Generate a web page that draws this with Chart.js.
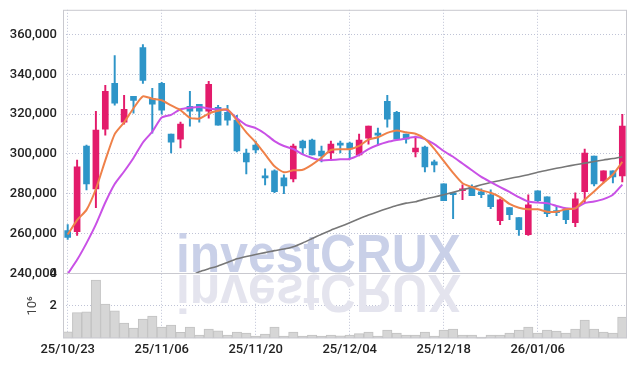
<!DOCTYPE html>
<html>
<head>
<meta charset="utf-8">
<script src="https://cdn.jsdelivr.net/npm/chart.js@4/dist/chart.umd.min.js"></script>
<style>
  html, body { margin: 0; padding: 0; background: #ffffff; }
  #chart { display: block; }
</style>
</head>
<body>
<canvas id="chart" width="637" height="366"></canvas>
<script>
// Daily candles 25/10/23 .. 26/01/19 (KRX trading days)
const dates = [
  '25/10/23','25/10/24','25/10/27','25/10/28','25/10/29','25/10/30','25/10/31','25/11/03','25/11/04','25/11/05',
  '25/11/06','25/11/07','25/11/10','25/11/11','25/11/12','25/11/13','25/11/14','25/11/17','25/11/18','25/11/19',
  '25/11/20','25/11/21','25/11/24','25/11/25','25/11/26','25/11/27','25/11/28','25/12/01','25/12/02','25/12/03',
  '25/12/04','25/12/05','25/12/08','25/12/09','25/12/10','25/12/11','25/12/12','25/12/15','25/12/16','25/12/17',
  '25/12/18','25/12/19','25/12/22','25/12/23','25/12/24','25/12/26','25/12/29','25/12/30','26/01/02','26/01/05',
  '26/01/06','26/01/07','26/01/08','26/01/09','26/01/12','26/01/13','26/01/14','26/01/15','26/01/16','26/01/19'
];

const priceTicks = [240000, 260000, 280000, 300000, 320000, 340000, 360000];
const volumeTicks = [2, 4];

const opens = [
  261500,261000,304000,282500,312500,335500,316000,329000,353500,328000,
  335500,310000,307500,324000,325000,321500,323500,321000,317000,300500,
  304500,288500,291500,288000,287500,306500,307000,301500,300500,305500,
  305500,299500,308000,310500,326500,321000,310000,301000,303500,296000,
  285000,280000,281500,283500,281000,279500,266500,273000,268000,259500,
  281500,278500,271500,272000,265500,281000,299000,286500,291500,289000
];
const highs = [
  264500,297000,304500,321500,334500,349500,329500,329000,355000,333000,
  336000,310000,316000,331500,325000,336500,324500,324500,319500,302500,
  306500,292500,292000,289500,305000,307000,307500,304000,306500,306500,
  306000,310000,314000,313000,329500,321500,310000,309000,304000,297000,
  285000,280000,284500,284500,282500,282000,277500,273000,268000,279500,
  281500,278500,273500,272000,280500,302500,299000,291500,291500,320000
];
const lows = [
  257000,259000,282000,273000,309500,324500,315000,320500,335500,310500,
  320000,300500,303000,314000,316000,318000,314500,314500,301000,290000,
  300500,284500,280500,280000,286000,300000,299500,296000,297500,300500,
  297500,299000,305000,304500,313500,307500,305500,298500,291000,291000,
  276500,267500,277000,279000,278000,272500,264500,267000,259000,259000,
  275500,268500,269000,265000,263500,275500,284000,285500,285500,286000
];
const closes = [
  258000,293500,285000,312000,331500,325500,322500,327000,337000,325000,
  322000,306000,315000,321500,321500,335000,314500,317000,301500,296000,
  302000,288000,281000,284000,304000,303000,299500,299000,305000,304500,
  302500,307000,314000,309500,317500,307500,307500,303000,293500,294500,
  276500,279500,282500,279000,279500,273500,277000,269500,262000,274500,
  276500,270000,270500,267000,277500,300500,285000,291500,288500,314000
];

// moving averages
const maShort = [
  259500,266800,271900,282400,296800,310000,315900,323000,329000,327800,
  327000,324400,322000,318200,317800,320300,321700,322400,316900,310900,
  305800,299800,293800,290800,291800,292100,294700,298100,302000,302400,
  302400,304100,307200,308400,310600,311800,310900,310200,307700,302600,
  296500,290500,285300,283400,281700,280500,278300,274900,273000,272200,
  272200,271000,271000,272200,272700,277000,281200,285500,289700,296000
];
const maMid = [
  239700,246800,255200,264600,275600,284900,291200,298000,305800,311200,
  318300,319700,322500,323200,323600,322900,322400,322000,318000,314500,
  313000,310200,306500,304000,302500,299800,298000,296800,297000,297300,
  297500,299500,302500,304500,306000,307000,307800,308500,307500,305000,
  301500,298600,295200,291800,288500,285900,283400,280900,278300,276100,
  275600,275300,273900,272700,272700,275300,276100,277300,279500,284600
];
const maLong = [
  null,null,null,null,null,null,null,null,null,null,
  null,null,null,238500,240800,242300,243700,245500,247300,248500,
  249500,250400,251400,252200,253400,255300,257500,259700,261700,263500,
  265400,267400,269300,271000,272600,274100,275300,276000,277300,278400,
  279500,280700,282000,283200,284500,285700,286700,287700,288600,289600,
  290800,291800,292800,293700,294600,295400,296200,297000,297700,298600
];

// volume in millions of shares
const volumes = [
  0.41,1.58,1.64,3.59,2.11,1.70,0.94,0.64,1.19,1.37,
  0.70,0.82,0.37,0.70,0.21,0.57,0.47,0.21,0.39,0.33,
  0.15,0.27,0.70,0.15,0.39,0.15,0.21,0.15,0.21,0.16,
  0.21,0.29,0.39,0.15,0.51,0.33,0.21,0.21,0.39,0.15,
  0.51,0.57,0.21,0.21,0.08,0.21,0.21,0.33,0.51,0.70,
  0.33,0.51,0.45,0.33,0.57,1.13,0.57,0.39,0.33,1.31
];

const UP = '#e31b6b';
const DOWN = '#2e95c8';
const GRID = '#bfc3d6';
const FRAME = '#c9c9cf';
const TEXT = '#222222';
const FONT = { family: 'Roboto', size: 13, weight: '500' };
const AXIS_WIDTH = 55;

const candleColors = opens.map((o, i) => (closes[i] >= o ? UP : DOWN));

// lines of the price pane must not spill into the volume pane
const priceClip = {
  id: 'priceClip',
  beforeDatasetDraw(chart, args) {
    if (args.meta.yAxisID !== 'y') return;
    const { ctx, chartArea, scales } = chart;
    ctx.save();
    ctx.beginPath();
    ctx.rect(chartArea.left, scales.y.top, chartArea.right - chartArea.left, scales.y.bottom - scales.y.top);
    ctx.clip();
  },
  afterDatasetDraw(chart, args) {
    if (args.meta.yAxisID !== 'y') return;
    chart.ctx.restore();
  },
};

// brand mark with its mirror image, centred on the canvas
const watermark = {
  id: 'watermark',
  beforeDatasetsDraw(chart) {
    const { ctx, scales } = chart;
    const cx = chart.width / 2;
    const base = scales.y.bottom;
    const text = 'investCRUX';
    ctx.save();
    ctx.font = 'bold 53px "Liberation Sans", Arial, sans-serif';
    const sx = 285 / ctx.measureText(text).width;
    ctx.textAlign = 'center';
    ctx.textBaseline = 'alphabetic';
    ctx.translate(cx, base);
    ctx.scale(sx, 1);
    ctx.fillStyle = '#c9d0e8';
    ctx.fillText(text, 0, -1);
    ctx.scale(1, -1);
    ctx.fillStyle = '#e4e4ee';
    ctx.fillText(text, 0, -2);
    ctx.restore();
  },
};

const frame = {
  id: 'frame',
  afterDatasetsDraw(chart) {
    const { ctx, chartArea, scales } = chart;
    ctx.save();
    ctx.strokeStyle = FRAME;
    ctx.lineWidth = 1;
    ctx.strokeRect(chartArea.left + 0.5, chartArea.top + 0.5, chartArea.right - chartArea.left - 1, chartArea.bottom - chartArea.top - 1);
    ctx.beginPath();
    ctx.moveTo(chartArea.left, Math.round(scales.y.bottom) + 0.5);
    ctx.lineTo(chartArea.right, Math.round(scales.y.bottom) + 0.5);
    ctx.stroke();
    ctx.restore();
  },
};

const lineStyle = (color, width) => ({
  type: 'line',
  yAxisID: 'y',
  borderColor: color,
  borderWidth: width,
  pointRadius: 0,
  tension: 0.2,
  fill: false,
  order: 0,
});

// tick marks kept (for label spacing) but invisible
const yGrid = { color: GRID, drawTicks: true, tickLength: 4, tickColor: 'transparent' };
const fixWidth = (axis) => { axis.width = AXIS_WIDTH; };

new Chart(document.getElementById('chart'), {
  type: 'bar',
  data: {
    labels: dates,
    datasets: [
      { ...lineStyle('#ef8149', 2), label: 'MA5', data: maShort },
      { ...lineStyle('#c951e6', 2), label: 'MA20', data: maMid },
      { ...lineStyle('#777777', 1.6), label: 'MA60', data: maLong },
      {
        label: 'body',
        yAxisID: 'y',
        data: opens.map((o, i) => [o, closes[i]]),
        backgroundColor: candleColors,
        barThickness: 6,
        minBarLength: 2,
        grouped: false,
        order: 1,
      },
      {
        label: 'wick',
        yAxisID: 'y',
        data: lows.map((l, i) => [l, highs[i]]),
        backgroundColor: candleColors,
        barThickness: 1.3,
        grouped: false,
        order: 2,
      },
      {
        label: 'volume',
        yAxisID: 'yv',
        data: volumes,
        backgroundColor: '#d6d6d6',
        borderColor: '#c2c2c2',
        borderWidth: 1,
        barPercentage: 1,
        categoryPercentage: 1,
        grouped: false,
        order: 3,
      },
    ],
  },
  options: {
    responsive: false,
    animation: false,
    layout: { padding: { top: 4, right: 10, bottom: 4, left: 8 } },
    plugins: { legend: { display: false }, tooltip: { enabled: false } },
    scales: {
      x: {
        offset: true,
        grid: {
          offset: false,
          color: (ctx) => (ctx.index % 10 === 0 ? GRID : 'transparent'),
          drawTicks: false,
        },
        border: { display: false, dash: [1, 2] },
        ticks: {
          autoSkip: false,
          maxRotation: 0,
          color: TEXT,
          font: FONT,
          padding: 4,
          callback: (v, i) => (i % 10 === 0 ? dates[i] : ''),
        },
      },
      yv: {
        position: 'left',
        stack: 'pane',
        stackWeight: 1,
        min: 0,
        max: 4,
        afterBuildTicks: (axis) => { axis.ticks = volumeTicks.map((value) => ({ value })); },
        afterFit: fixWidth,
        grid: yGrid,
        border: { display: false, dash: [1, 2] },
        title: { display: true, text: '10⁶', color: '#444', font: { family: 'Roboto', size: 13 }, padding: { top: 17, bottom: 0 } },
        ticks: { color: TEXT, font: FONT, padding: 2 },
      },
      y: {
        position: 'left',
        stack: 'pane',
        stackWeight: 4.05,
        min: 240000,
        max: 372500,
        afterBuildTicks: (axis) => { axis.ticks = priceTicks.map((value) => ({ value })); },
        afterFit: fixWidth,
        grid: yGrid,
        border: { display: false, dash: [1, 2] },
        ticks: {
          color: TEXT,
          font: FONT,
          padding: 2,
          callback: (v) => v.toLocaleString('en-US'),
        },
      },
    },
  },
  plugins: [priceClip, watermark, frame],
});
</script>
</body>
</html>
